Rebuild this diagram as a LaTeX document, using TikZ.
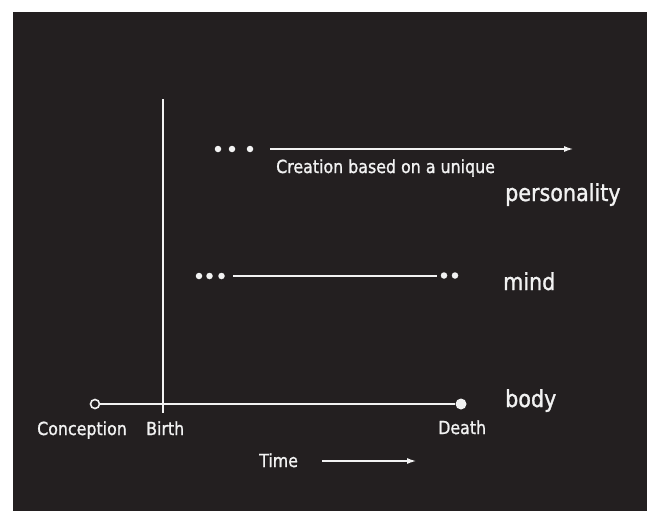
\documentclass[tikz,border=0pt]{standalone}
\usepackage{fontspec}
\setmainfont{DejaVu Sans}[FakeStretch=0.88, FakeBold=1.2]
\usetikzlibrary{arrows.meta}
\definecolor{bg}{HTML}{231F20}
\definecolor{fg}{HTML}{F2F2F2}
\tikzset{
  lbl/.style={text=fg, inner sep=0pt, anchor=base west, font=\fontsize{18}{20}\selectfont},
  biglbl/.style={lbl, font=\fontsize{23.5}{26}\selectfont},
  ln/.style={draw=fg, line width=2pt},
  arr/.style={ln, -{Latex[length=10pt,width=6pt]}},
  dotn/.style={circle, fill=fg, inner sep=0pt, minimum size=6.5pt},
}
\begin{document}
\begin{tikzpicture}[x=1pt,y=-1pt]
\useasboundingbox (0,0) rectangle (647,511);
\fill[white] (0,0) rectangle (647,511);
\fill[bg] (13,12) rectangle (647,511);
% vertical birth line
\coordinate (vtop) at (163,99);
\coordinate (vbot) at (163,413);
\draw[ln] (vtop) -- (vbot);
% body line
\node[circle, draw=fg, line width=1.6pt, fill=bg, minimum size=9pt, inner sep=0pt] (conc) at (95,404) {};
\node[dotn, minimum size=11pt] (death) at (461,404) {};
\draw[ln] (conc) -- (death);
% mind line
\node[dotn] (m1) at (199,276) {};
\node[dotn] (m2) at (209.5,276) {};
\node[dotn] (m3) at (221.5,276) {};
\coordinate (ms) at (233,275.5);
\coordinate (me) at (437,275.5);
\draw[ln] (ms) -- (me);
\node[dotn] (m4) at (444,275.5) {};
\node[dotn] (m5) at (455,275.5) {};
% personality line
\node[dotn] (p1) at (218,149) {};
\node[dotn] (p2) at (232,149) {};
\node[dotn] (p3) at (250,149) {};
\coordinate (ps) at (270,149);
\coordinate (pe) at (574,149);
\draw[arr] (ps) -- (pe);
% time arrow
\coordinate (ts) at (322,461);
\coordinate (te) at (417,461);
\draw[arr] (ts) -- (te);
% labels
\node[lbl] (creation) at (276,173) {Creation based on a unique};
\node[biglbl] (personality) at (505,201) {personality};
\node[biglbl] (mind) at (503,290) {mind};
\node[biglbl] (body) at (505,407) {body};
\node[lbl] (conception) at (37,435) {Conception};
\node[lbl] (birth) at (146,435) {Birth};
\node[lbl] (deathl) at (438,434) {Death};
\node[lbl] (time) at (259,467) {Time};
\end{tikzpicture}
\end{document}
